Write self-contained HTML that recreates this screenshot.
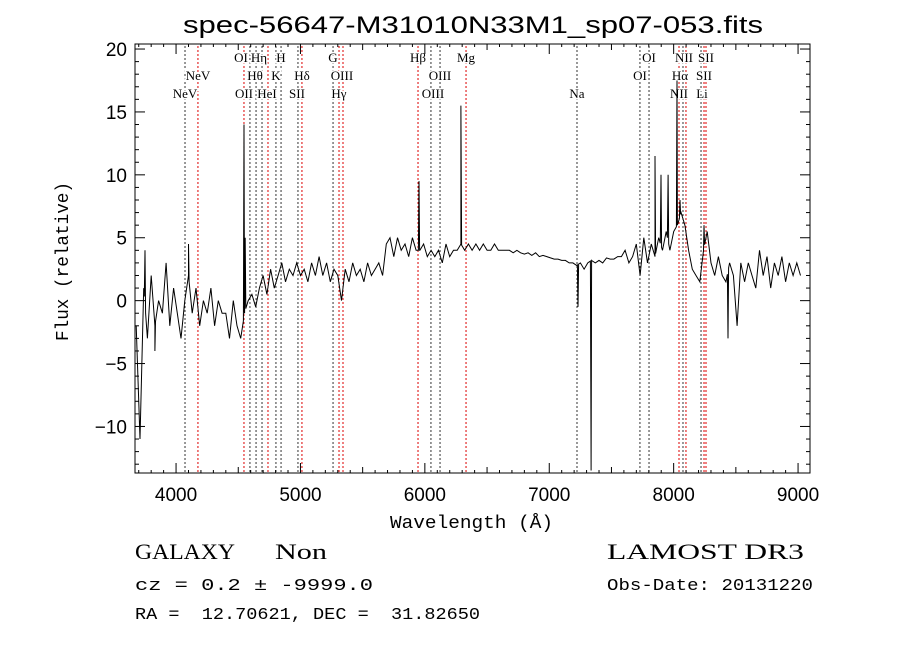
<!DOCTYPE html>
<html><head><meta charset="utf-8"><style>
body{margin:0;background:#fff;}
svg{display:block;font-family:"Liberation Sans",sans-serif;}
</style></head><body>
<svg id="chart" width="900" height="649">
<text x="183" y="33" font-size="24" textLength="580" lengthAdjust="spacingAndGlyphs">spec-56647-M31010N33M1_sp07-053.fits</text>
<rect x="135" y="44" width="675" height="429" fill="none" stroke="#000" stroke-width="1"/>
<g id="lines"></g>
<g id="ticks"></g>
<path id="spec" fill="none" stroke="#000" stroke-width="1"/>
<text x="390" y="528" font-size="18" textLength="163" lengthAdjust="spacingAndGlyphs" font-family="Liberation Mono,monospace">Wavelength (Å)</text>
<text transform="translate(68,341) rotate(-90)" font-size="18" textLength="159" lengthAdjust="spacingAndGlyphs" font-family="Liberation Mono,monospace">Flux (relative)</text>
<text x="135" y="559" font-size="22" textLength="100" lengthAdjust="spacingAndGlyphs" font-family="Liberation Serif,serif">GALAXY</text>
<text x="275" y="559" font-size="22" textLength="52" lengthAdjust="spacingAndGlyphs" font-family="Liberation Serif,serif">Non</text>
<text x="135" y="590" font-size="17" textLength="238" lengthAdjust="spacingAndGlyphs" font-family="Liberation Mono,monospace">cz = 0.2 ± -9999.0</text>
<text x="135" y="619" font-size="17" textLength="345" lengthAdjust="spacingAndGlyphs" xml:space="preserve" font-family="Liberation Mono,monospace">RA =  12.70621, DEC =  31.82650</text>
<text x="607" y="559" font-size="22" textLength="197" lengthAdjust="spacingAndGlyphs" font-family="Liberation Serif,serif">LAMOST DR3</text>
<text x="607" y="590" font-size="17" textLength="206" lengthAdjust="spacingAndGlyphs" font-family="Liberation Mono,monospace">Obs-Date: 20131220</text>
</svg>
<script>
const xTicks=[4000,5000,6000,7000,8000,9000];
const yTicks=[-10,-5,0,5,10,15,20];
const fluxStart=3680, fluxStep=30;
const fluxValues=[-2,-11,1,-3,2,-2,0,-1,3,-2,
1,-1,-3,0,2,-1,1,-2,0,-1,
1,-2,0,-1,-1,-3,0,-2,-3,-1,
0,0.5,-0.5,1,2,0.5,2.5,1,2,3,
1.5,2.5,2,3,2,2.5,1.5,3,2,3.5,
2,3,1.5,2.5,2,0,2.5,1.5,3,2,
2.5,1.5,3,2,2.5,3,2,4.5,5,3.5,
5,4,4.5,3.5,5,4,4,4.5,3.5,4,
3.5,4,3,4.5,3.5,4,4,4.5,4,4.5,
4,4.5,4,4.5,4,4,4.5,4,4,4,
4,3.8,4,3.8,3.7,3.8,3.6,3.8,3.5,3.6,
3.5,3.4,3.3,3.3,3.2,3.2,3,3,2.8,3,
2.5,3,3.2,3,3.2,3,3.4,3.3,3.3,3.5,
3.5,4,3,3.5,4.5,2,5,3,4.5,3.5,
5,4,5.5,4,5.5,6,7,6,4,2.5,
2,1.5,4,5.5,3,2,3.5,2,1.5,3,
2,-2,3,1.5,3,2,1,4,2,3.5,
1,3,2,3.5,1.5,3,2,3,2];
const spikeLam=[3750,3830,4100,4546,4556,5953,6290,7231,7336,7850,7898,7955,8027,8051,8244,8437];
const spikeFlux=[4,-4,4.5,14,5,9.5,15.5,-0.5,-13.5,11.5,10,10,17.5,8,6,-3];
const lineLam=[4072,4176,4546,4594,4643,4691,4739,4803,4844,4980,5012,5262,5310,5342,5945,6049,6122,6331,7223,7729,7802,8043,8075,8099,8220,8244,8260];
const lineColor=["k","r","r","k","k","k","r","k","k","k","r","k","r","r","r","k","k","r","k","k","k","r","k","r","k","r","r"];
const labelText=["NeV","NeV","OII","OI","Hη","Hθ","HeI","H","K","Hδ","SII","G","OIII","Hγ","Hβ","OIII","OIII","Mg","Na","OI","OI","NII","Hα","NII","SII","SII","Li"];
const labelX=[185,198,244,241,259,255,267,281,276,302,297,333,342,339,418,440,433,466,577,649,640,684,680,679,706,704,702];
const labelRow=[3,2,3,1,1,2,3,1,2,2,3,1,2,3,1,2,3,1,3,1,2,1,2,3,1,2,3];

const X0=135,X1=810,Y0=44,Y1=473,LMIN=3670,LMAX=9096,FMIN=-13.7,FMAX=20.4;
const sx=l=>X0+(l-LMIN)/(LMAX-LMIN)*(X1-X0);
const sy=f=>Y1-(f-FMIN)/(FMAX-FMIN)*(Y1-Y0);
const NS="http://www.w3.org/2000/svg";
const tg=document.getElementById('ticks'), lg=document.getElementById('lines');
function mk(t,a,p){const e=document.createElementNS(NS,t);for(const k in a)e.setAttribute(k,a[k]);p.appendChild(e);return e;}
for(let l=3700;l<=9050;l+=100){const big=l%500===0;const L=big?(l%1000===0?10:6):3;const x=sx(l);
 const t1=mk('line',{x1:x,x2:x,y1:Y1,y2:Y1-L,stroke:'#000'},tg);
 
 
 const t2=mk('line',{x1:x,x2:x,y1:Y0,y2:Y0+L,stroke:'#000'},tg);
 
 }
for(let f=-13;f<=20;f+=1){const big=f%5===0;const L=big?10:4;const y=sy(f);
 const t1=mk('line',{x1:X0,x2:X0+L,y1:y,y2:y,stroke:'#000'},tg);
 
 
 const t2=mk('line',{x1:X1,x2:X1-L,y1:y,y2:y,stroke:'#000'},tg);
 
 }
xTicks.forEach(v=>{const t=mk('text',{x:sx(v),y:Y1+28,'font-size':19,'text-anchor':'middle'},tg);t.textContent=v;
 
 });
yTicks.forEach(v=>{const t=mk('text',{x:X0-8,y:sy(v)+7,'font-size':19,'text-anchor':'end'},tg);t.textContent=v<0?'−'+(-v):v;
 
 });
lineLam.forEach((l,i)=>{const x=sx(l);const e=mk('line',{x1:x,x2:x,y1:Y0+2,y2:Y1,stroke:lineColor[i]==='r'?'#d00':'#333','stroke-width':1,'stroke-dasharray':'2,2'},lg);
 
 });
labelText.forEach((s,i)=>{const t=mk('text',{x:labelX[i],y:62+(labelRow[i]-1)*18,'font-size':13,'text-anchor':'middle','font-family':'Liberation Serif,serif','stroke':'#fff','stroke-width':3,'paint-order':'stroke'},lg);t.textContent=s;
 
 });
let pts=fluxValues.map((f,i)=>[fluxStart+i*fluxStep,f]);
const base=l=>{const k=(l-fluxStart)/fluxStep;const i=Math.max(0,Math.min(fluxValues.length-2,Math.floor(k)));const t=k-i;return fluxValues[i]*(1-t)+fluxValues[i+1]*t;};
spikeLam.forEach((l,i)=>{pts.push([l-5,base(l-5)]);pts.push([l,spikeFlux[i]]);pts.push([l+5,base(l+5)]);});
pts.sort((a,b)=>a[0]-b[0]);
const clampY=f=>Math.max(Y0,Math.min(Y1,sy(f)));
document.getElementById('spec').setAttribute('d',pts.map((p,i)=>(i?'L':'M')+sx(p[0]).toFixed(1)+','+clampY(p[1]).toFixed(1)).join(''));
</script>
</body></html>
